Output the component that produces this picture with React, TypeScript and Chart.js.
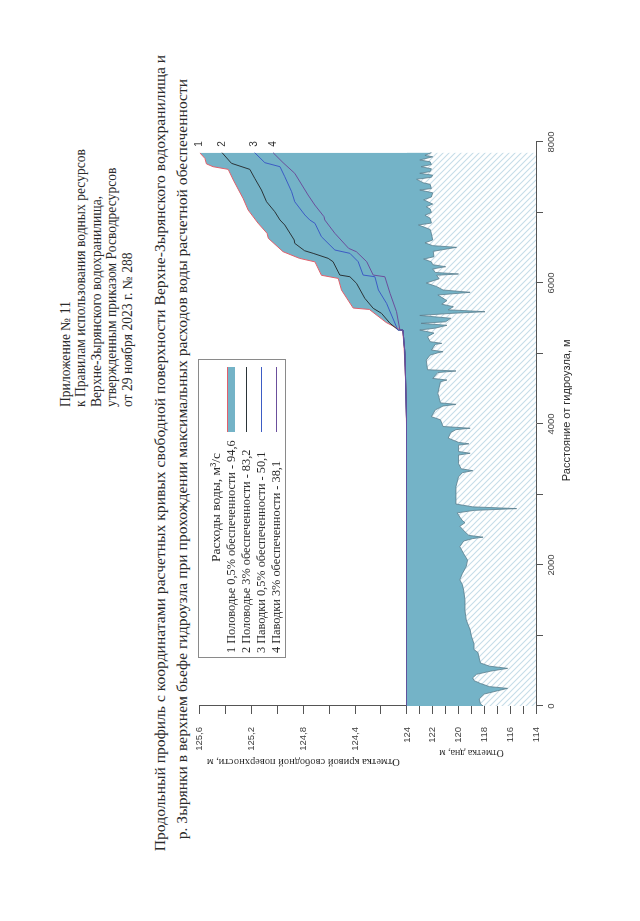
import React, { useEffect, useRef } from 'react';
import { Chart, registerables } from 'chart.js';

Chart.register(...registerables);

// ---------- data ----------
const BOTTOM_DIST = [
  0, 30, 100, 170, 215, 250, 275, 320, 360, 400, 450, 495, 534, 565, 610, 680, 760, 800, 880, 990,
  1080, 1220, 1350, 1500, 1640, 1720, 1790, 1880, 1980, 2070, 2160, 2260, 2340, 2375, 2395, 2420, 2470, 2550, 2600, 2630,
  2680, 2740, 2775, 2800, 2825, 2865, 2970, 3110, 3250, 3310, 3338, 3365, 3440, 3560, 3585, 3610, 3700, 3719, 3740, 3800,
  3880, 3920, 3940, 3965, 4060, 4104, 4200, 4255, 4279, 4300, 4435, 4520, 4600, 4624, 4647, 4730, 4752, 4770, 4907, 4978,
  5010, 5026, 5049, 5130, 5144, 5168, 5239, 5290, 5333, 5360, 5400, 5428, 5450, 5500, 5540, 5570, 5593, 5620, 5664, 5700,
  5750, 5830, 5868, 5901, 5950, 6000, 6060, 6110, 6128, 6150, 6200, 6231, 6260, 6300, 6340, 6373, 6450, 6506, 6530, 6570,
  6610, 6700, 6760, 6823, 6850, 6920, 6960, 7000, 7050, 7082, 7120, 7180, 7220, 7280, 7319, 7340, 7400, 7420, 7471, 7500,
  7530, 7556, 7580, 7620, 7650, 7680, 7720, 7745, 7790, 7810, 7850
];
const BOTTOM_ELEV = [
  118.1, 118.3, 118.4, 118.0, 117.0, 116.2, 117.6, 118.3, 118.8, 118.9, 118.6, 117.5, 116.2, 117.6, 118.3, 118.4, 118.5, 118.8, 118.8, 119.0,
  119.1, 119.4, 119.5, 119.5, 119.6, 119.7, 119.9, 119.7, 119.4, 119.3, 119.6, 119.9, 119.6, 118.9, 118.1, 119.2, 119.5, 119.9, 119.5, 119.7,
  119.9, 120.1, 118.8, 115.5, 118.9, 120.2, 120.2, 120.2, 120.0, 119.7, 118.9, 119.8, 120.0, 120.0, 119.1, 120.0, 120.0, 119.2, 120.0, 120.8,
  120.6, 120.2, 119.1, 121.2, 121.4, 122.1, 121.8, 121.2, 120.2, 121.4, 121.6, 121.5, 121.4, 120.9, 122.0, 121.6, 120.2, 122.4, 122.5, 122.2,
  121.6, 121.2, 122.1, 121.8, 121.3, 122.2, 122.4, 121.9, 123.0, 121.8, 120.9, 122.9, 121.0, 120.6, 123.0, 120.5, 117.95, 120.8, 120.4, 121.3,
  120.9, 121.6, 119.1, 121.2, 121.7, 122.5, 121.5, 121.7, 120.0, 121.8, 122.0, 121.0, 122.0, 122.1, 122.7, 121.9, 121.96, 120.15, 122.0, 122.6,
  122.0, 122.1, 122.2, 123.1, 122.1, 122.2, 122.6, 122.1, 122.2, 122.5, 122.0, 122.7, 122.1, 122.0, 123.0, 122.1, 122.2, 122.7, 123.25, 122.1,
  122.0, 123.0, 122.2, 122.1, 122.9, 122.1, 122.2, 123.0, 122.0, 122.6, 122.1
];

const C1_DIST = [0, 1000, 2000, 3000, 4000, 4500, 4800, 5100, 5323, 5345, 5440, 5625, 5645, 5900, 6065, 6110, 6300, 6350, 6444, 6634, 6705, 6850, 7035, 7200, 7320, 7460, 7612, 7650, 7690, 7768, 7848];
const C1_ELEV = [124.0, 124.0, 124.0, 124.001, 124.003, 124.008, 124.014, 124.022, 124.032, 124.06, 124.16, 124.29, 124.415, 124.505, 124.53, 124.66, 124.71, 124.83, 124.956, 125.07, 125.08, 125.15, 125.226, 125.265, 125.3, 125.34, 125.38, 125.497, 125.548, 125.56, 125.6];

const C2_DIST = [0, 2000, 4000, 5000, 5323, 5333, 5428, 5570, 5641, 5783, 5996, 6089, 6113, 6302, 6350, 6421, 6458, 6563, 6610, 6823, 6894, 7011, 7153, 7319, 7485, 7612, 7698, 7848];
const C2_ELEV = [124.0, 124.0, 124.002, 124.015, 124.03, 124.067, 124.13, 124.196, 124.26, 124.325, 124.389, 124.44, 124.518, 124.57, 124.608, 124.724, 124.79, 124.866, 124.87, 124.943, 124.98, 125.02, 125.084, 125.123, 125.175, 125.213, 125.355, 125.427];

const C3_DIST = [0, 2000, 4000, 5000, 5323, 5333, 5712, 5901, 6089, 6113, 6302, 6421, 6468, 6657, 6847, 6894, 6965, 7153, 7295, 7508, 7650, 7707, 7848];
const C3_ELEV = [124.0, 124.0, 124.002, 124.015, 124.03, 124.07, 124.157, 124.22, 124.247, 124.338, 124.376, 124.44, 124.556, 124.66, 124.71, 124.75, 124.788, 124.866, 124.89, 124.943, 124.98, 125.097, 125.175];

const C4_DIST = [0, 2000, 4000, 5000, 5323, 5333, 5593, 5853, 6089, 6113, 6302, 6444, 6492, 6705, 6894, 6941, 7106, 7248, 7556, 7707, 7848];
const C4_ELEV = [124.0, 124.0, 124.002, 124.015, 124.03, 124.054, 124.08, 124.13, 124.17, 124.26, 124.31, 124.39, 124.45, 124.556, 124.634, 124.64, 124.711, 124.763, 124.866, 124.956, 125.033];

const X_TICKS = [0, 1000, 2000, 3000, 4000, 5000, 6000, 7000, 8000];
const X_LABELS = ['0', '', '2000', '', '4000', '', '6000', '', '8000'];
const UPPER_TICKS = [124, 124.2, 124.4, 124.6, 124.8, 125, 125.2, 125.4, 125.6];
const UPPER_LABELS = ['124', '', '124,4', '', '124,8', '', '125,2', '', '125,6'];
const LOWER_TICKS = [114, 115, 116, 117, 118, 119, 120, 121, 122, 123, 124];
const LOWER_LABELS = ['114', '', '116', '', '118', '', '120', '', '122', '', ''];

const CURVE_TAGS = ['1', '2', '3', '4'];
const LEGEND_TITLE = 'Расходы воды, м³/с';
const LEGEND_ITEMS = [
  '1 Половодье 0,5% обеспеченности - 94,6',
  '2 Половодье 3% обеспеченности - 83,2',
  '3 Паводки 0,5% обеспеченности - 50,1',
  '4 Паводки 3% обеспеченности - 38,1',
];
const HEADER_LINES = [
  'Приложение № 11',
  'к Правилам использования водных ресурсов',
  'Верхне-Зырянского водохранилища,',
  'утвержденным приказом Росводресурсов',
  'от 29 ноября 2023 г. № 288',
];
const TITLE_LINES = [
  'Продольный профиль с координатами расчетных кривых свободной поверхности Верхне-Зырянского водохранилища и',
  'р. Зырянки в верхнем бьефе гидроузла при прохождении максимальных расходов воды расчетной обеспеченности',
];
const X_TITLE = '         Расстояние от гидроузла, м';
const Y_UPPER_TITLE = 'Отметка кривой свободной поверхности, м';
const Y_LOWER_TITLE = 'Отметка дна, м';

// ---------- styles ----------
const BLUE = '#74b3c7';
const RED = '#e2606c';
const C2_COLOR = '#2b3438';
const C3_COLOR = '#3d5cc4';
const C4_COLOR = '#6b4f9c';
const BOTTOM_LINE = '#5b7d8d';
const AXIS = '#555';
const TEXT = '#2a2a2a';
const SERIF = '"Liberation Serif", "DejaVu Serif", serif';
const SANS = '"Liberation Sans", "DejaVu Sans", sans-serif';

const pts = (xs: number[], ys: number[]) => xs.map((x, i) => ({ x, y: ys[i] }));

function makeHatch(): any {
  const c = document.createElement('canvas');
  c.width = 6;
  c.height = 6;
  const g = c.getContext('2d')!;
  g.fillStyle = '#ffffff';
  g.fillRect(0, 0, 6, 6);
  g.strokeStyle = '#c6dde8';
  g.lineWidth = 1.1;
  g.beginPath();
  g.moveTo(-1, -1); g.lineTo(7, 7);
  g.moveTo(-4, 2); g.lineTo(4, 10);
  g.moveTo(2, -4); g.lineTo(10, 4);
  g.stroke();
  return g.createPattern(c, 'repeat');
}

const tagPlugin = {
  id: 'curveTags',
  afterDatasetsDraw(chart: any) {
    const ctx = chart.ctx;
    ctx.save();
    ctx.font = '10px ' + SANS;
    ctx.fillStyle = '#333';
    ctx.textAlign = 'left';
    ctx.textBaseline = 'middle';
    CURVE_TAGS.forEach((t, k) => {
      const meta = chart.getDatasetMeta(2 + k);
      const p = meta.data[meta.data.length - 1];
      if (p) ctx.fillText(t, p.x + 6, p.y);
    });
    ctx.restore();
  },
};

const CANVAS_LEFT = 140;
const CANVAS_TOP = 181;
const CANVAS_W = 660;
const CANVAS_H = 419;

function ProfileChart() {
  const ref = useRef<HTMLCanvasElement | null>(null);
  useEffect(() => {
    if (!ref.current) return;
    const hatch = makeHatch();
    const tickFont = { family: SANS, size: 9.5 };
    const baseGrid = { display: true, drawOnChartArea: false, drawTicks: true, tickLength: 8, color: AXIS };
    const chart = new Chart(ref.current, {
      type: 'line',
      data: {
        datasets: [
          { label: 'hatch', data: pts(BOTTOM_DIST, BOTTOM_ELEV), yAxisID: 'yLow', fill: 'start', backgroundColor: hatch, borderWidth: 0, borderColor: 'rgba(0,0,0,0)', pointRadius: 0, order: 6 },
          { label: 'bottom', data: pts(BOTTOM_DIST, BOTTOM_ELEV), yAxisID: 'yLow', fill: { value: 124.1 }, backgroundColor: BLUE, borderColor: BOTTOM_LINE, borderWidth: 0.8, pointRadius: 0, order: 5 },
          { label: '1', data: pts(C1_DIST, C1_ELEV), yAxisID: 'yHigh', fill: { value: 123.97 }, backgroundColor: BLUE, borderColor: RED, borderWidth: 1, pointRadius: 0, order: 4 },
          { label: '2', data: pts(C2_DIST, C2_ELEV), yAxisID: 'yHigh', fill: false, borderColor: C2_COLOR, borderWidth: 1, pointRadius: 0, order: 3 },
          { label: '3', data: pts(C3_DIST, C3_ELEV), yAxisID: 'yHigh', fill: false, borderColor: C3_COLOR, borderWidth: 1, pointRadius: 0, order: 2 },
          { label: '4', data: pts(C4_DIST, C4_ELEV), yAxisID: 'yHigh', fill: false, borderColor: C4_COLOR, borderWidth: 1, pointRadius: 0, order: 1 },
        ],
      },
      options: {
        responsive: false,
        animation: false,
        devicePixelRatio: 1,
        layout: { padding: { top: 10, right: 21, left: 0, bottom: 0 } },
        elements: { line: { tension: 0 }, point: { radius: 0 } },
        plugins: { legend: { display: false }, tooltip: { enabled: false }, title: { display: false } },
        scales: {
          x: {
            type: 'linear', position: 'bottom', min: 0, max: 8000,
            afterFit: (s: any) => { s.height = 64; },
            afterBuildTicks: (s: any) => { s.ticks = X_TICKS.map((v) => ({ value: v })); },
            ticks: { callback: (_v: any, i: number) => X_LABELS[i], font: tickFont, color: '#444', padding: 3, maxRotation: 0, autoSkip: false },
            grid: { ...baseGrid, tickLength: 7 },
            border: { display: true, color: AXIS, width: 1 },
            title: { display: true, text: X_TITLE, font: { family: SANS, size: 11 }, color: TEXT, padding: { top: 0, bottom: 26 } },
          },
          yLow: {
            type: 'linear', position: 'left', stack: 'elev', stackWeight: 129, min: 114, max: 124,
            afterFit: (s: any) => { s.width = 75; },
            afterBuildTicks: (s: any) => { s.ticks = LOWER_TICKS.map((v) => ({ value: v })); },
            ticks: { callback: (_v: any, i: number) => LOWER_LABELS[i], font: tickFont, color: '#444', padding: 13, autoSkip: false },
            grid: baseGrid,
            border: { display: true, color: AXIS, width: 1 },
            title: { display: true, text: Y_LOWER_TITLE, font: { family: SERIF, size: 10 }, color: TEXT, padding: { top: 22, bottom: 0 } },
          },
          yHigh: {
            type: 'linear', position: 'left', stack: 'elev', stackWeight: 207, min: 124, max: 125.6,
            afterFit: (s: any) => { s.width = 75; },
            afterBuildTicks: (s: any) => { s.ticks = UPPER_TICKS.map((v) => ({ value: v })); },
            ticks: { callback: (_v: any, i: number) => UPPER_LABELS[i], font: tickFont, color: '#444', padding: 13, autoSkip: false },
            grid: baseGrid,
            border: { display: true, color: AXIS, width: 1 },
            title: { display: true, text: Y_UPPER_TITLE, font: { family: SERIF, size: 10.5 }, color: TEXT, padding: { top: 12.7, bottom: 0 } },
          },
        },
      } as any,
      plugins: [tagPlugin],
    });
    return () => chart.destroy();
  }, []);
  return (
    <canvas
      ref={ref}
      width={CANVAS_W}
      height={CANVAS_H}
      style={{ position: 'absolute', left: CANVAS_LEFT, top: CANVAS_TOP, width: CANVAS_W, height: CANVAS_H }}
    />
  );
}

function Legend() {
  const rowY = [32, 47, 62, 77];
  return (
    <div style={{ position: 'absolute', left: 263, top: 198, width: 299, height: 88, border: '1px solid #8a8a8a', background: '#fff', boxSizing: 'border-box', fontFamily: SERIF, color: TEXT }}>
      <div style={{ position: 'absolute', left: 0, width: 299, top: 9, lineHeight: '16px', fontSize: 13.5, textAlign: 'center', whiteSpace: 'nowrap' }}>
        {LEGEND_TITLE}
      </div>
      {LEGEND_ITEMS.map((t, i) => (
        <div key={i} style={{ position: 'absolute', left: 4, top: rowY[i] - 7, lineHeight: '14px', fontSize: 12.3, whiteSpace: 'nowrap' }}>{t}</div>
      ))}
      <div style={{ position: 'absolute', left: 225, top: rowY[0] - 4, width: 65, height: 7, background: BLUE, borderTop: '1.5px solid ' + RED }} />
      <div style={{ position: 'absolute', left: 225, top: rowY[1], width: 65, height: 1, background: C2_COLOR }} />
      <div style={{ position: 'absolute', left: 225, top: rowY[2], width: 65, height: 1, background: C3_COLOR }} />
      <div style={{ position: 'absolute', left: 225, top: rowY[3], width: 65, height: 1, background: C4_COLOR }} />
    </div>
  );
}

export default function App() {
  return (
    <div style={{ position: 'absolute', left: 0, top: 0, width: 640, height: 921, overflow: 'hidden', background: '#fff' }}>
      <div style={{ position: 'absolute', left: 0, top: 0, width: 921, height: 640, transformOrigin: '0 0', transform: 'translate(0px, 921px) rotate(-90deg)' }}>
        <div style={{ position: 'absolute', left: 514, top: 57.7, fontFamily: SERIF, fontSize: 13.6, lineHeight: '15.6px', color: TEXT, whiteSpace: 'nowrap' }}>
          {HEADER_LINES.map((l, i) => (<div key={i}>{l}</div>))}
        </div>
        <div style={{ position: 'absolute', left: 468 - 500, top: 160 - 10, width: 1000, textAlign: 'center', fontFamily: SERIF, fontSize: 15.6, lineHeight: '20px', color: TEXT, whiteSpace: 'nowrap' }}>
          {TITLE_LINES[0]}
        </div>
        <div style={{ position: 'absolute', left: 462 - 500, top: 181.7 - 10, width: 1000, textAlign: 'center', fontFamily: SERIF, fontSize: 15.6, lineHeight: '20px', color: TEXT, whiteSpace: 'nowrap' }}>
          {TITLE_LINES[1]}
        </div>
        <ProfileChart />
        <Legend />
      </div>
    </div>
  );
}
